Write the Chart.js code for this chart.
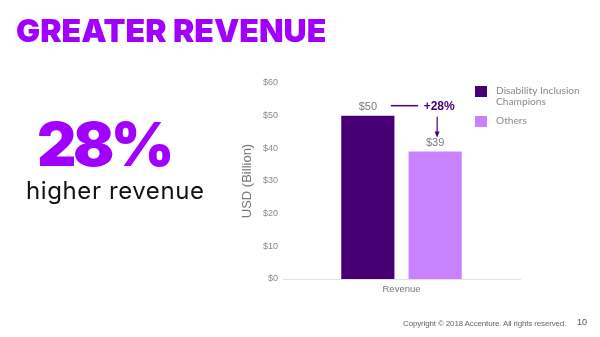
<!DOCTYPE html>
<html>
<head>
<meta charset="utf-8">
<script src="https://cdn.jsdelivr.net/npm/chart.js@4/dist/chart.umd.min.js"></script>
<style>
  html, body { margin: 0; padding: 0; background: #fff; }
  #wrap { position: relative; width: 600px; height: 337px; overflow: hidden; }
  #chart { position: absolute; left: 0; top: 0; }
  .title { position: absolute; left: 16px; top: 11px; font: 900 32px "Inter", sans-serif; color: #a100ff; letter-spacing: 0; white-space: nowrap; }
  .big { position: absolute; left: 37px; top: 107px; font: 900 61px "Inter", sans-serif; color: #a100ff; letter-spacing: -3.5px; }
  .sub { position: absolute; left: 26px; top: 176px; font: 400 24px "Inter", sans-serif; color: #111; letter-spacing: 0.6px; }
  .foot { position: absolute; left: 403px; top: 319px; font: 400 8px "Liberation Sans", sans-serif; color: #666; white-space: nowrap; letter-spacing: -0.15px; }
  .page { position: absolute; left: 577px; top: 317px; font: 400 9px "Liberation Sans", sans-serif; color: #555; }
</style>
</head>
<body>
<div id="wrap">
  <canvas id="chart" width="600" height="337"></canvas>
  <div class="title">GREATER REVENUE</div>
  <div class="big">28%</div>
  <div class="sub">higher revenue</div>
  <div class="foot">Copyright © 2018 Accenture. All rights reserved.</div>
  <div class="page">10</div>
</div>
<script>
var categories = ["Revenue"];
var seriesNames = ["Disability Inclusion Champions", "Others"];
var legendLines = [["Disability Inclusion", "Champions"], ["Others"]];
var champions = [50];
var others = [39];
var barColors = ["#460073", "#c882ff"];
var gapLabel = "+28%";

// value labels, the +28% callout and the legend on the right
var extras = {
  id: "extras",
  afterDatasetsDraw: function(chart) {
    var ctx = chart.ctx;
    var dark = chart.getDatasetMeta(0).data[0];
    var light = chart.getDatasetMeta(1).data[0];

    ctx.save();
    ctx.font = "11px 'Liberation Sans', sans-serif";
    ctx.fillStyle = "#7a7a7a";
    ctx.textAlign = "center";
    ctx.textBaseline = "bottom";
    ctx.fillText("$" + champions[0], dark.x, dark.y - 3);
    ctx.fillText("$" + others[0], light.x, light.y - 3);

    // connector line and arrow
    var ly = dark.y - 10;
    ctx.strokeStyle = "#460073";
    ctx.lineWidth = 1.5;
    ctx.beginPath();
    ctx.moveTo(dark.x + 23, ly);
    ctx.lineTo(light.x - 17, ly);
    ctx.stroke();

    ctx.font = "bold 12px 'Liberation Sans', sans-serif";
    ctx.fillStyle = "#460073";
    ctx.textBaseline = "middle";
    ctx.fillText(gapLabel, light.x + 4, ly + 1);

    var ax = light.x + 2;
    ctx.lineWidth = 1.2;
    ctx.beginPath();
    ctx.moveTo(ax, ly + 11);
    ctx.lineTo(ax, light.y - 16);
    ctx.stroke();
    ctx.beginPath();
    ctx.moveTo(ax - 2.5, light.y - 20);
    ctx.lineTo(ax + 2.5, light.y - 20);
    ctx.lineTo(ax, light.y - 14);
    ctx.closePath();
    ctx.fill();

    // legend
    var lx = 475, top = [86, 116];
    ctx.font = "10.2px 'Lato', sans-serif";
    ctx.textAlign = "left";
    ctx.textBaseline = "middle";
    for (var i = 0; i < seriesNames.length; i++) {
      ctx.fillStyle = barColors[i];
      ctx.fillRect(lx, top[i], 12, 11);
      ctx.fillStyle = "#8a8a8a";
      for (var j = 0; j < legendLines[i].length; j++) {
        ctx.fillText(legendLines[i][j], lx + 21, top[i] + 5 + j * 11);
      }
    }
    ctx.restore();
  }
};

new Chart(document.getElementById("chart"), {
  type: "bar",
  data: {
    labels: categories,
    datasets: [
      { label: seriesNames[0], data: champions, backgroundColor: barColors[0] },
      { label: seriesNames[1], data: others, backgroundColor: barColors[1] }
    ]
  },
  options: {
    responsive: false,
    animation: false,
    categoryPercentage: 0.568,
    barPercentage: 0.79,
    layout: { padding: { left: 240, right: 80, top: 83, bottom: 28 } },
    plugins: { legend: { display: false }, tooltip: { enabled: false } },
    scales: {
      x: {
        grid: { display: false, drawTicks: false },
        border: { display: true, color: "#e2e2e2" },
        ticks: { color: "#777", padding: 5, font: { size: 9.5, family: "'Liberation Sans', sans-serif" } },
        afterFit: function(s) { s.height = 30; }
      },
      y: {
        min: 0,
        max: 60,
        ticks: {
          stepSize: 10,
          padding: 5,
          color: "#8a8a8a",
          font: { size: 9, family: "'Liberation Sans', sans-serif" },
          callback: function(v) { return "$" + v; }
        },
        grid: { display: false, drawTicks: false },
        border: { display: false },
        title: {
          display: true,
          text: "USD (Billion)",
          color: "#777",
          padding: 0,
          font: { size: 13, family: "'Liberation Sans', sans-serif" }
        },
        afterFit: function(s) { s.width = 43; }
      }
    }
  },
  plugins: [extras]
});
</script>
</body>
</html>
